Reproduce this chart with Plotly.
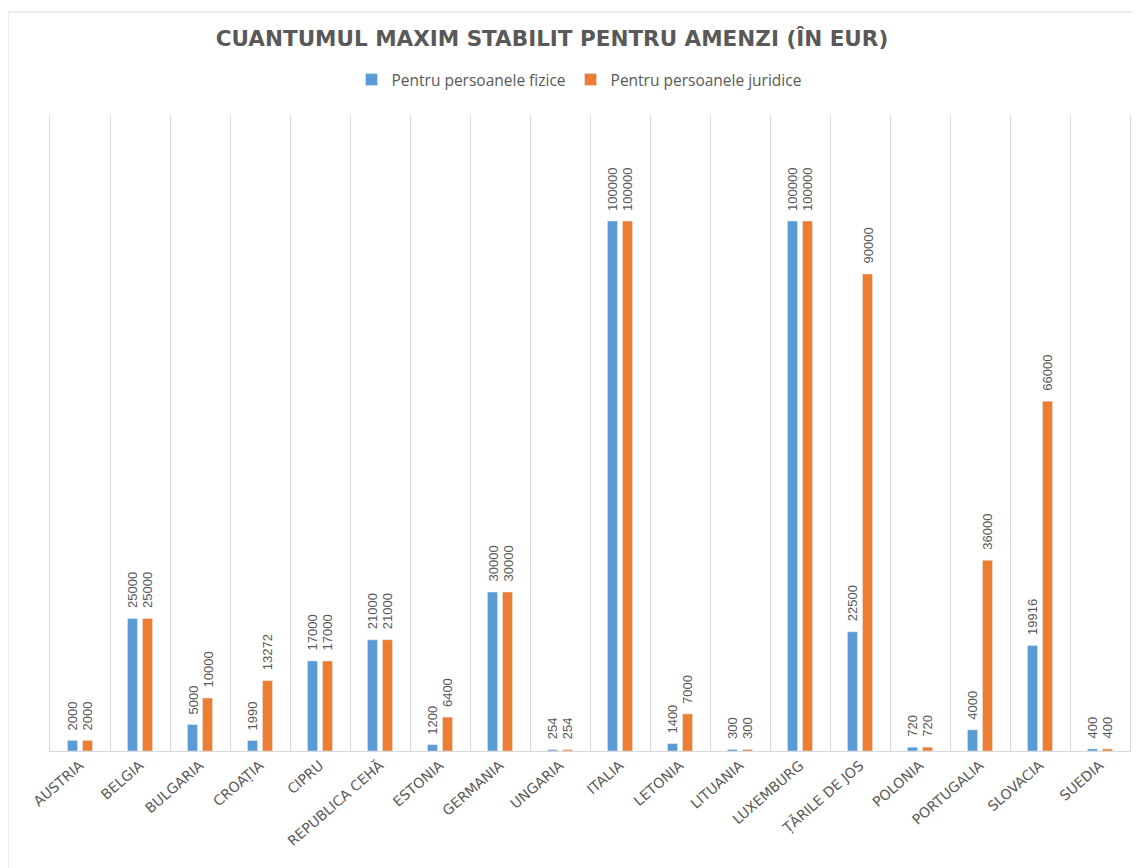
import plotly.graph_objects as go

categories = ["AUSTRIA", "BELGIA", "BULGARIA", "CROAȚIA", "CIPRU", "REPUBLICA CEHĂ",
              "ESTONIA", "GERMANIA", "UNGARIA", "ITALIA", "LETONIA", "LITUANIA",
              "LUXEMBURG", "ȚĂRILE DE JOS", "POLONIA", "PORTUGALIA", "SLOVACIA", "SUEDIA"]
fizice = [2000, 25000, 5000, 1990, 17000, 21000, 1200, 30000, 254, 100000, 1400, 300,
          100000, 22500, 720, 4000, 19916, 400]
juridice = [2000, 25000, 10000, 13272, 17000, 21000, 6400, 30000, 254, 100000, 7000, 300,
            100000, 90000, 720, 36000, 66000, 400]
series = [("Pentru persoanele fizice", fizice, "#5B9BD5", -7.5),
          ("Pentru persoanele juridice", juridice, "#ED7D31", 7.5)]

GREY = "#595959"
label_font = dict(family="Liberation Sans Narrow, Arial Narrow, sans-serif", size=13, color=GREY)

W, H = 1133, 860
L, T, R, B = 42, 107, 11, 117
PW, PH = W - L - R, H - T - B

fig = go.Figure()
annotations = []
for name, vals, color, dx in series:
    fig.add_trace(go.Bar(x=categories, y=vals, name=name, marker=dict(color=color),
                         hoverinfo="x+y"))
    for c, v in zip(categories, vals):
        annotations.append(dict(x=c, y=v, xref="x", yref="y", text=str(v), showarrow=False,
                                textangle=-90, xanchor="center", yanchor="bottom",
                                xshift=dx, yshift=8, font=label_font))

fig.update_layout(
    width=W, height=H,
    margin=dict(l=L, r=R, t=T, b=B),
    paper_bgcolor="white", plot_bgcolor="white",
    barmode="group", bargap=0.5, bargroupgap=0.33,
    title=dict(text="<b>CUANTUMUL MAXIM STABILIT PENTRU AMENZI (ÎN EUR)</b>",
               x=544 / W, xanchor="center", y=1 - 30 / H, yanchor="middle",
               font=dict(family="DejaVu Sans, sans-serif", size=21.5, color=GREY)),
    legend=dict(orientation="h", x=(571 - L) / PW, xanchor="center",
                y=(H - B - 72) / PH, yanchor="middle",
                font=dict(family="Open Sans, sans-serif", size=15.5, color=GREY),
                itemwidth=30, traceorder="normal"),
    xaxis=dict(type="category", tickson="boundaries", showgrid=True, gridcolor="#d9d9d9",
               gridwidth=1, showline=True, linecolor="#d9d9d9", linewidth=1,
               ticks="", tickangle=-41,
               tickfont=dict(family="DejaVu Sans, sans-serif", size=14, color=GREY)),
    yaxis=dict(range=[0, 120000], showgrid=False, zeroline=False, showticklabels=False,
               showline=True, linecolor="#d9d9d9", linewidth=1, mirror=True, ticks=""),
    annotations=annotations,
    shapes=[dict(type="rect", xref="paper", yref="paper",
                 x0=(0 - L) / PW, x1=1.05, y0=-0.3, y1=(H - B - 4) / PH,
                 line=dict(color="#d9d9d9", width=1), fillcolor="rgba(0,0,0,0)", layer="below")],
)

fig.write_html("out.html")
